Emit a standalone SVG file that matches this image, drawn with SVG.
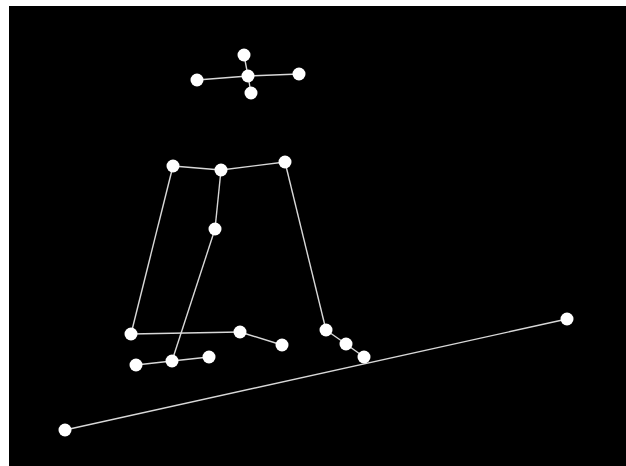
<svg xmlns="http://www.w3.org/2000/svg" width="626" height="466" viewBox="0 0 626 466">
<style>
.e{stroke:#d8d8d8;stroke-width:1.4;fill:none}
.n{fill:#ffffff}
</style>
<rect x="0" y="0" width="626" height="466" fill="#ffffff"/>
<rect x="9" y="6" width="617" height="460" fill="#000000"/>
<g id="connectors">
<line class="e" x1="244" y1="55" x2="248" y2="76"/>
<line class="e" x1="248" y1="76" x2="251" y2="93"/>
<line class="e" x1="197" y1="80" x2="248" y2="76"/>
<line class="e" x1="248" y1="76" x2="299" y2="74"/>
<line class="e" x1="173" y1="166" x2="221" y2="170"/>
<line class="e" x1="221" y1="170" x2="285" y2="162"/>
<line class="e" x1="221" y1="170" x2="215" y2="229"/>
<line class="e" x1="215" y1="229" x2="172" y2="361"/>
<line class="e" x1="173" y1="166" x2="131" y2="334"/>
<line class="e" x1="285" y1="162" x2="326" y2="330"/>
<line class="e" x1="131" y1="334" x2="240" y2="332"/>
<line class="e" x1="240" y1="332" x2="282" y2="345"/>
<line class="e" x1="326" y1="330" x2="346" y2="344"/>
<line class="e" x1="346" y1="344" x2="364" y2="357"/>
<line class="e" x1="136" y1="365" x2="172" y2="361"/>
<line class="e" x1="172" y1="361" x2="209" y2="357"/>
<line class="e" x1="65" y1="430" x2="567" y2="319"/>
</g>
<g id="head-top"><circle class="n" cx="244" cy="55" r="6.5"/></g>
<g id="head-center"><circle class="n" cx="248" cy="76" r="6.5"/></g>
<g id="head-left"><circle class="n" cx="197" cy="80" r="6.5"/></g>
<g id="head-right"><circle class="n" cx="299" cy="74" r="6.5"/></g>
<g id="head-bottom"><circle class="n" cx="251" cy="93" r="6.5"/></g>
<g id="shoulder-left"><circle class="n" cx="173" cy="166" r="6.5"/></g>
<g id="neck"><circle class="n" cx="221" cy="170" r="6.5"/></g>
<g id="shoulder-right"><circle class="n" cx="285" cy="162" r="6.5"/></g>
<g id="spine"><circle class="n" cx="215" cy="229" r="6.5"/></g>
<g id="hand-left"><circle class="n" cx="131" cy="334" r="6.5"/></g>
<g id="knee"><circle class="n" cx="240" cy="332" r="6.5"/></g>
<g id="foot-a"><circle class="n" cx="282" cy="345" r="6.5"/></g>
<g id="hand-right"><circle class="n" cx="326" cy="330" r="6.5"/></g>
<g id="right-b"><circle class="n" cx="346" cy="344" r="6.5"/></g>
<g id="right-c"><circle class="n" cx="364" cy="357" r="6.5"/></g>
<g id="hip-left"><circle class="n" cx="136" cy="365" r="6.5"/></g>
<g id="hip-center"><circle class="n" cx="172" cy="361" r="6.5"/></g>
<g id="hip-right"><circle class="n" cx="209" cy="357" r="6.5"/></g>
<g id="ground-left"><circle class="n" cx="65" cy="430" r="6.5"/></g>
<g id="ground-right"><circle class="n" cx="567" cy="319" r="6.5"/></g>
</svg>
